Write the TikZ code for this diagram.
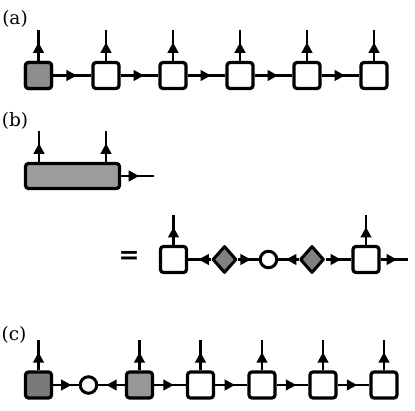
\documentclass[tikz,border=0pt]{standalone}
\usepackage{fontspec}
\newfontfamily\eqfont{DejaVu Sans}
\newfontfamily\lblfont{DejaVu Serif}
\usetikzlibrary{arrows.meta,decorations.markings,shapes.geometric}
\definecolor{ga}{HTML}{8E8E8E}
\definecolor{gb}{HTML}{9C9C9C}
\definecolor{gcone}{HTML}{7A7A7A}
\definecolor{gctwo}{HTML}{979797}
\definecolor{gd}{HTML}{808080}
\tikzset{
  tens/.style={draw=black,line width=3.2pt,rounded corners=3pt,minimum size=26pt,inner sep=0pt,fill=white},
  widebox/.style={draw=black,line width=3.2pt,rounded corners=3pt,minimum width=94pt,minimum height=25pt,inner sep=0pt,fill=gb},
  dmd/.style={diamond,draw=black,line width=3pt,minimum width=24pt,minimum height=27pt,inner sep=0pt,fill=gd,line join=round},
  circ/.style={circle,draw=black,line width=3pt,minimum size=16.5pt,inner sep=0pt,fill=white},
  conn/.style={line width=2.6pt,postaction={decorate},decoration={markings,mark=at position #1 with {\arrow{Triangle[length=10.5pt,width=10.5pt]}}}},
  conn/.default=0.62,
  lbl/.style={font=\lblfont\fontsize{18.5}{22}\selectfont,inner sep=0pt}
}
\begin{document}
\begin{tikzpicture}[x=1pt,y=-1pt]
\useasboundingbox (0,0) rectangle (415,411);
% (a)
\node[lbl] (la) at (15,19) {(a)};
\foreach \i/\x in {1/38.5,2/106,3/173,4/240,5/307,6/374}{
  \node[tens] (a\i) at (\x,75.5) {};
  \coordinate (a\i t) at (\x,30);
}
\node[tens,fill=ga] at (a1) {};
\foreach \i in {1,...,6}{ \draw[conn=0.6] (a\i.north) -- (a\i t); }
\foreach \i/\j in {1/2,2/3,3/4,4/5,5/6}{ \draw[conn] (a\i.east) -- (a\j.west); }
% (b)
\node[lbl] (lb) at (15,121) {(b)};
\node[widebox] (w) at (72.5,176) {};
\coordinate (w1t) at (39,131);
\coordinate (w2t) at (106,131);
\coordinate (wo) at (154,176);
\draw[conn=0.6] (w.north -| w1t) -- (w1t);
\draw[conn=0.6] (w.north -| w2t) -- (w2t);
\draw[conn=0.55] (w.east) -- (wo);
% =
\node[font=\eqfont\bfseries\fontsize{25}{25}\selectfont,inner sep=0pt] (eq) at (129,257) {=};
\node[tens] (bl) at (173.5,259.5) {};
\node[dmd] (d1) at (224.5,259.5) {};
\node[circ] (c0) at (268.5,259.5) {};
\node[dmd] (d2) at (312,259.5) {};
\node[tens] (br) at (366,259.5) {};
\coordinate (blt) at (173.5,215);
\coordinate (brt) at (366,215);
\coordinate (bro) at (408,259.5);
\draw[conn=0.6] (bl.north) -- (blt);
\draw[conn=0.6] (br.north) -- (brt);
\draw[conn=0.55] (d1.west) -- (bl.east);
\draw[conn=0.62] (d1.east) -- (c0.west);
\draw[conn=0.62] (d2.west) -- (c0.east);
\draw[conn=0.6] (d2.east) -- (br.west);
\draw[conn=0.6] (br.east) -- (bro);
% (c)
\node[lbl] (lc) at (14,335) {(c)};
\node[tens,fill=gcone] (c1) at (38.5,385) {};
\node[circ] (cc) at (88.5,385) {};
\node[tens,fill=gctwo] (c2) at (139.5,385) {};
\foreach \i/\x in {3/200.5,4/262,5/323,6/384}{
  \node[tens] (c\i) at (\x,385) {};
}
\foreach \i/\x in {1/38.5,2/139.5,3/200.5,4/262,5/323,6/384}{
  \coordinate (c\i t) at (\x,340);
}
\foreach \i in {1,...,6}{ \draw[conn=0.6] (c\i.north) -- (c\i t); }
\draw[conn=0.72] (c1.east) -- (cc.west);
\draw[conn=0.7] (c2.west) -- (cc.east);
\foreach \i/\j in {2/3,3/4,4/5,5/6}{ \draw[conn] (c\i.east) -- (c\j.west); }
\end{tikzpicture}
\end{document}
